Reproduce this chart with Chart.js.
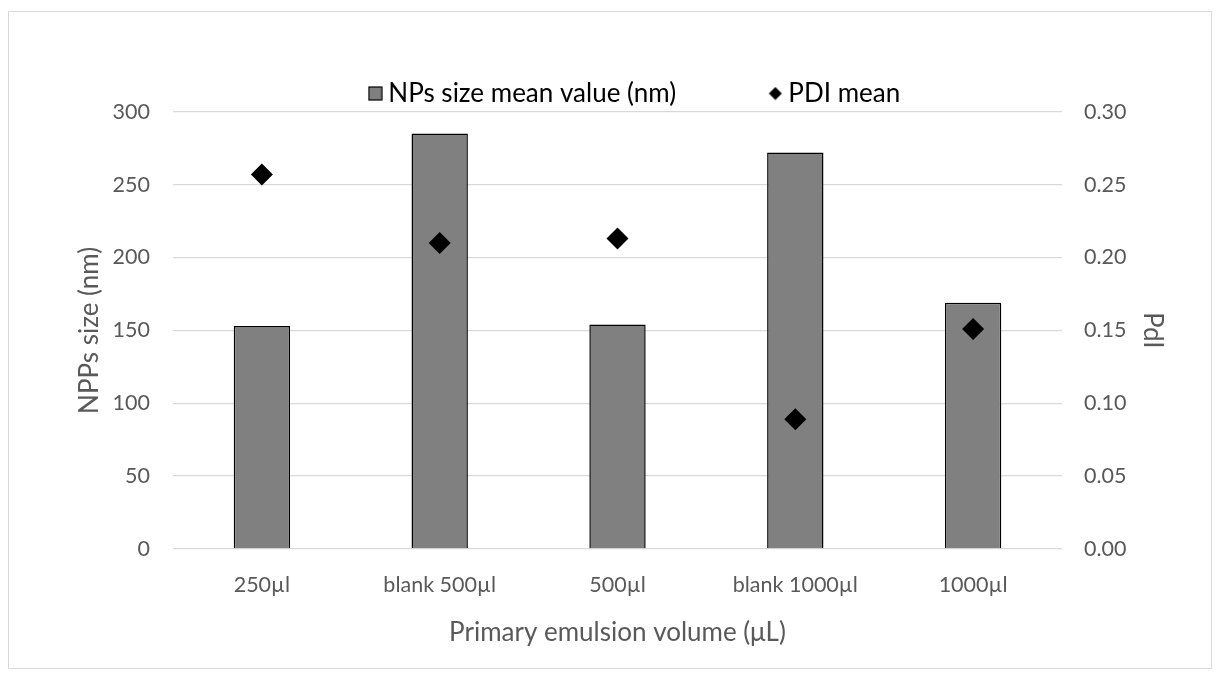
<!DOCTYPE html>
<html>
<head>
<meta charset="utf-8">
<script src="https://cdn.jsdelivr.net/npm/chart.js@4.4.1/dist/chart.umd.min.js"></script>
<style>
  html, body { margin: 0; padding: 0; background: #ffffff; }
  #wrap { position: relative; width: 1220px; height: 681px; overflow: hidden; }
  #frame { position: absolute; left: 8px; top: 11px; width: 1202px; height: 656px; border: 1.5px solid #d9d9d9; }
  #c { position: absolute; left: 0; top: 0; }
</style>
</head>
<body>
<div id="wrap">
  <div id="frame"></div>
  <canvas id="c" width="1220" height="681"></canvas>
</div>
<script>
// Sample groups and measured means
const categories = ['250µl', 'blank 500µl', '500µl', 'blank 1000µl', '1000µl'];
const sizeMeans = [153, 285, 154, 272, 169];          // NPs size mean value (nm)
const pdiMeans = [0.257, 0.210, 0.213, 0.089, 0.151]; // PDI mean

// Axis ticks
const sizeTicks = [0, 50, 100, 150, 200, 250, 300];
const pdiTicks = [0, 0.05, 0.10, 0.15, 0.20, 0.25, 0.30];

const FONT = 'Lato, "Open Sans", sans-serif';
const GREY_TEXT = '#595959';
const GRID = '#d9d9d9';

// Small legend icons
function makeSquareIcon() {
  const c = document.createElement('canvas');
  c.width = 15; c.height = 15;
  const g = c.getContext('2d');
  g.fillStyle = '#808080';
  g.fillRect(1, 1, 13, 13);
  g.strokeStyle = '#000000';
  g.lineWidth = 1.2;
  g.strokeRect(1, 1, 13, 13);
  return c;
}
function makeDiamondIcon() {
  const c = document.createElement('canvas');
  c.width = 14; c.height = 14;
  const g = c.getContext('2d');
  g.fillStyle = '#000000';
  g.beginPath();
  g.moveTo(7, 0.5); g.lineTo(13.5, 7); g.lineTo(7, 13.5); g.lineTo(0.5, 7);
  g.closePath();
  g.fill();
  return c;
}
const squareIcon = makeSquareIcon();
const diamondIcon = makeDiamondIcon();

// spacing between the two legend entries
const LEGEND_GAP = ' '.repeat(14);

new Chart(document.getElementById('c'), {
  data: {
    labels: categories,
    datasets: [
      {
        type: 'line',
        label: 'PDI mean',
        data: pdiMeans,
        yAxisID: 'yPdi',
        showLine: false,
        pointStyle: 'rectRot',
        pointRadius: 11,
        pointHoverRadius: 11,
        pointBackgroundColor: '#000000',
        pointBorderColor: '#000000',
        pointBorderWidth: 0,
        order: 0
      },
      {
        type: 'bar',
        label: 'NPs size mean value (nm)',
        data: sizeMeans,
        yAxisID: 'ySize',
        backgroundColor: '#808080',
        borderColor: '#000000',
        borderWidth: 1.5,
        categoryPercentage: 1.0,
        barPercentage: 0.317,
        order: 1
      }
    ]
  },
  options: {
    responsive: false,
    animation: false,
    devicePixelRatio: 1,
    layout: { padding: { left: 63.5, right: 8, top: 74.5, bottom: 12 } },
    plugins: {
      tooltip: { enabled: false },
      legend: {
        position: 'top',
        align: 'center',
        maxHeight: 37.2,
        labels: {
          usePointStyle: true,
          boxWidth: 0.01,
          boxHeight: 14,
          padding: 6,
          color: '#262626',
          font: { family: FONT, size: 26 },
          generateLabels: () => [
            { text: 'NPs size mean value (nm)' + LEGEND_GAP, pointStyle: squareIcon, datasetIndex: 1, hidden: false, lineWidth: 0, fillStyle: '#808080', strokeStyle: '#000' },
            { text: 'PDI mean', pointStyle: diamondIcon, datasetIndex: 0, hidden: false, lineWidth: 0, fillStyle: '#000', strokeStyle: '#000' }
          ]
        }
      }
    },
    scales: {
      x: {
        type: 'category',
        grid: { display: false, drawTicks: false },
        border: { display: false },
        ticks: { color: GREY_TEXT, font: { family: FONT, size: 21.5 }, padding: 23, maxRotation: 0 },
        title: {
          display: true,
          text: 'Primary emulsion volume (μL)',
          color: GREY_TEXT,
          font: { family: FONT, size: 26 },
          padding: { top: 0, bottom: 21 }
        },
        afterFit: s => { s.height = 120; }
      },
      ySize: {
        type: 'linear',
        position: 'left',
        min: 0,
        max: 300,
        afterBuildTicks: s => { s.ticks = sizeTicks.map(v => ({ value: v })); },
        grid: { color: GRID, lineWidth: 1.3, drawTicks: false },
        border: { display: false },
        ticks: { color: GREY_TEXT, font: { family: FONT, size: 21.5 }, padding: 23 },
        title: {
          display: true,
          text: 'NPPs size (nm)',
          color: GREY_TEXT,
          font: { family: FONT, size: 26 },
          padding: { top: 10.9, bottom: 0 }
        },
        afterFit: s => { s.width = 109.5; }
      },
      yPdi: {
        type: 'linear',
        position: 'right',
        min: 0,
        max: 0.3,
        afterBuildTicks: s => { s.ticks = pdiTicks.map(v => ({ value: v })); },
        grid: { display: false, drawTicks: false },
        border: { display: false },
        ticks: {
          color: GREY_TEXT,
          font: { family: FONT, size: 21.5 },
          padding: 22,
          callback: v => Number(v).toFixed(2)
        },
        title: {
          display: true,
          text: 'PdI',
          color: GREY_TEXT,
          font: { family: FONT, size: 26 },
          padding: { top: 44.4, bottom: 0 }
        },
        afterFit: s => { s.width = 150; }
      }
    }
  }
});
</script>
</body>
</html>
